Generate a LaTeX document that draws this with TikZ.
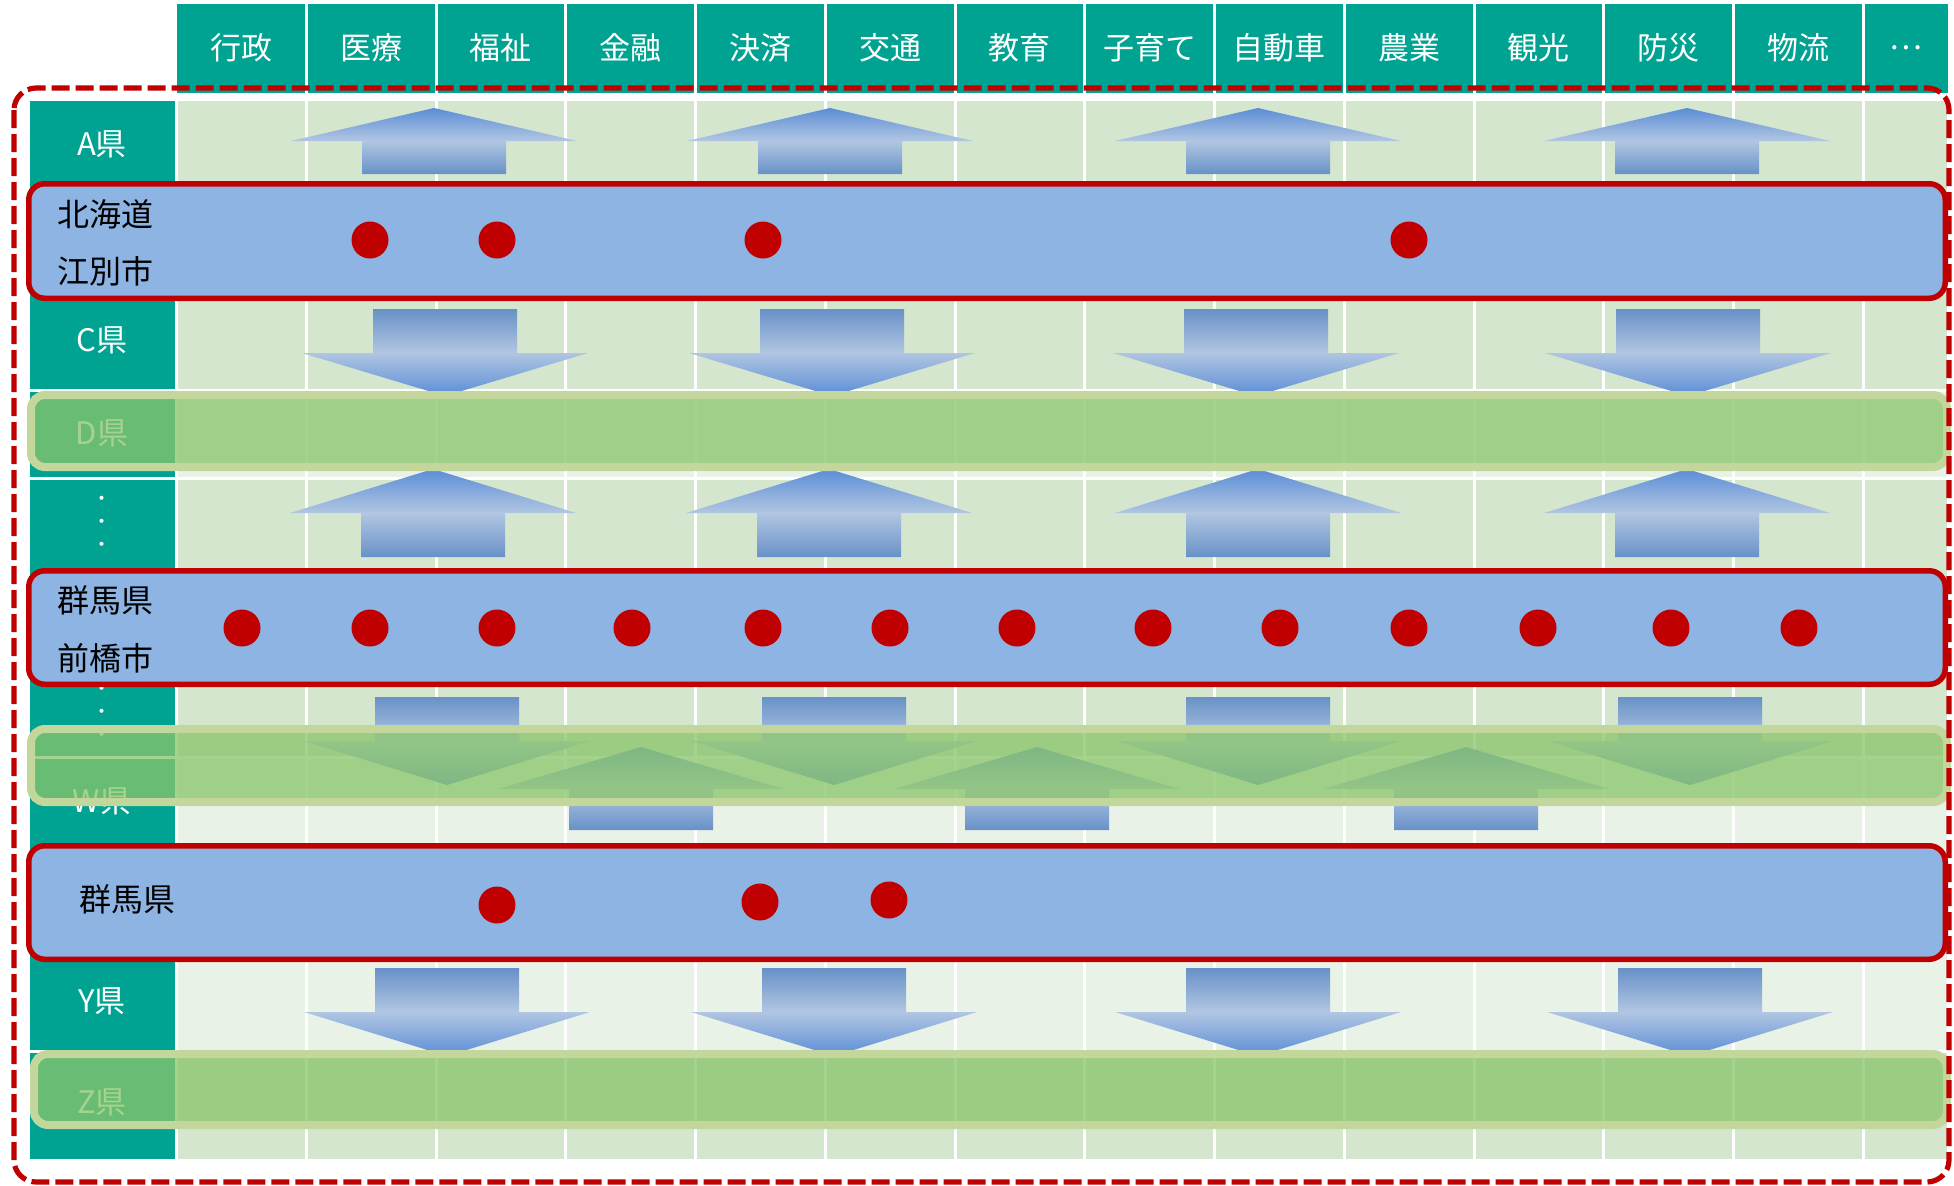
\documentclass[tikz,border=0pt]{standalone}
\usepackage{fontspec}
\setmainfont{Noto Sans CJK JP}
\definecolor{headteal}{RGB}{0,163,145}
\definecolor{celldark}{RGB}{212,230,206}
\definecolor{celllight}{RGB}{233,242,230}
\definecolor{bandblue}{RGB}{142,180,227}
\definecolor{bandred}{RGB}{192,0,0}
\definecolor{bandgreen}{RGB}{138,197,106}
\definecolor{bandedge}{RGB}{195,214,155}
\definecolor{arrdark}{RGB}{91,141,214}
\definecolor{arrgrey}{RGB}{104,145,199}
\definecolor{arrlight}{RGB}{177,198,226}

\begin{document}
\begin{tikzpicture}[x=0.5pt, y=-0.5pt,
		    headtxt/.style={text=white, font=\fontsize{15.5}{18}\selectfont, inner sep=0pt},
		    rowtxt/.style={text=white, font=\fontsize{15.5}{18}\selectfont, inner sep=0pt},
		    dotstxt/.style={text=white, align=center, font=\fontsize{9.5}{11.5}\selectfont, inner sep=0pt},
		    bandtxt/.style={text=black, font=\fontsize{16}{19}\selectfont, inner sep=0pt, anchor=west},
		    reddot/.style={circle, fill=bandred, inner sep=0pt, minimum size=18.5pt},
		    blueband/.style={fill=bandblue, draw=bandred, line width=2.75pt, rounded corners=8pt},
		    greenband/.style={fill=bandgreen, fill opacity=0.76, draw=bandedge, line width=4pt, rounded corners=7pt},
		    uparr/.style={top color=arrdark, bottom color=arrgrey, middle color=arrlight},
		    downarr/.style={top color=arrgrey, bottom color=arrdark, middle color=arrlight},
		    gridline/.style={white, line width=1.5pt},
		    outerdash/.style={bandred, line width=2.6pt, dash pattern=on 9pt off 3pt, rounded corners=11pt}
		]
		\useasboundingbox (0,0) rectangle (1954,1185);
		% header row
		\fill[headteal] (177,4) rectangle (1948,93);
		\foreach \i in {1,...,13}
		    \draw[gridline] ({176.5+129.75*\i},4) -- ({176.5+129.75*\i},93);
		\foreach \lab [count=\i from 0] in {行政,医療,福祉,金融,決済,交通,教育,子育て,自動車,農業,観光,防災,物流}
		    \node[headtxt] (head\i) at ({241.4+129.75*\i},48) {\lab};
		\node[headtxt] (head13) at (1905.5,48) {…};
		% table body
		\fill[headteal] (30,101) rectangle (175,1159);
		\fill[celldark] (177,101) rectangle (1947,390);
		\fill[celllight] (177,390) rectangle (1947,478);
		\fill[celldark] (177,478) rectangle (1947,757);
		\fill[celllight] (177,757) rectangle (1947,1051);
		\fill[celldark] (177,1051) rectangle (1947,1159);
		\foreach \i in {0,...,13}
		    \draw[gridline] ({176.5+129.75*\i},101) -- ({176.5+129.75*\i},1159);
		\foreach \y in {390,478,757,1051}
		    \draw[gridline] (30,\y) -- (1947,\y);
		% prefecture labels
		\node[rowtxt] (prefA) at (102,144) {A県};
		\node[rowtxt] (prefC) at (102,340) {C県};
		\node[rowtxt] (prefD) at (102,433) {D県};
		\node[dotstxt] (vdotsA) at (102,524) {・\\・\\・};
		\node[dotstxt] (vdotsB) at (102,714) {・\\・\\・};
		\node[rowtxt] (prefW) at (102,801) {W県};
		\node[rowtxt] (prefY) at (102,1001) {Y県};
		\node[rowtxt] (prefZ) at (102,1102) {Z県};
		% arrows
		\foreach \cx in {434,830,1258,1687}
		    \shade[uparr] (\cx,108) -- ++(143,33) -- ++(-71,0) -- ++(0,33) -- ++(-144,0) -- ++(0,-33) -- ++(-71,0) -- cycle;
		\foreach \cx in {445,832,1256,1688}
		    \shade[downarr] ({\cx-72},309) -- ++(144,0) -- ++(0,44) -- ++(71,0) -- ++(-143,43) -- ++(-143,-43) -- ++(71,0) -- cycle;
		\foreach \cx in {433,829,1258,1687}
		    \shade[uparr] (\cx,469) -- ++(143,44) -- ++(-71,0) -- ++(0,44) -- ++(-144,0) -- ++(0,-44) -- ++(-71,0) -- cycle;
		\foreach \cx in {447,834,1258,1690}
		    \shade[downarr] ({\cx-72},697) -- ++(144,0) -- ++(0,44) -- ++(71,0) -- ++(-143,44) -- ++(-143,-44) -- ++(71,0) -- cycle;
		\foreach \cx in {641,1037,1466}
		    \shade[uparr] (\cx,747) -- ++(143,42) -- ++(-71,0) -- ++(0,41) -- ++(-144,0) -- ++(0,-41) -- ++(-71,0) -- cycle;
		\foreach \cx in {447,834,1258,1690}
		    \shade[downarr] ({\cx-72},968) -- ++(144,0) -- ++(0,44) -- ++(71,0) -- ++(-143,44) -- ++(-143,-44) -- ++(71,0) -- cycle;
		% green bands
		\draw[greenband] (31,395) rectangle (1947,467);
		\draw[greenband] (31,729) rectangle (1947,802);
		\draw[greenband] (34,1054) rectangle (1947,1125);
		% blue bands
		\draw[blueband] (28.75,183.75) rectangle (1945.25,298.25);
		\draw[blueband] (28.75,570.75) rectangle (1945.25,684.25);
		\draw[blueband] (28.75,845.75) rectangle (1945.25,959.25);
		\node[bandtxt] (hokkaido) at (57,214) {北海道};
		\node[bandtxt] (ebetsu) at (57,271) {江別市};
		\node[bandtxt] (gunmaA) at (57,600) {群馬県};
		\node[bandtxt] (maebashi) at (57,658) {前橋市};
		\node[bandtxt] (gunmaB) at (79,899) {群馬県};
		% red dots
		\foreach \x [count=\i] in {370,497,763,1409}
		    \node[reddot] (dotA\i) at (\x,240) {};
		\foreach \x [count=\i] in {242,370,497,632,763,890,1017,1153,1280,1409,1538,1671,1799}
		    \node[reddot] (dotB\i) at (\x,628) {};
		\node[reddot] (dotC1) at (497,905) {};
		\node[reddot] (dotC2) at (760,902) {};
		\node[reddot] (dotC3) at (889,900) {};
		% outer frame
		\draw[outerdash] (14,88) rectangle (1949,1182);
	\end{tikzpicture}
\end{document}
